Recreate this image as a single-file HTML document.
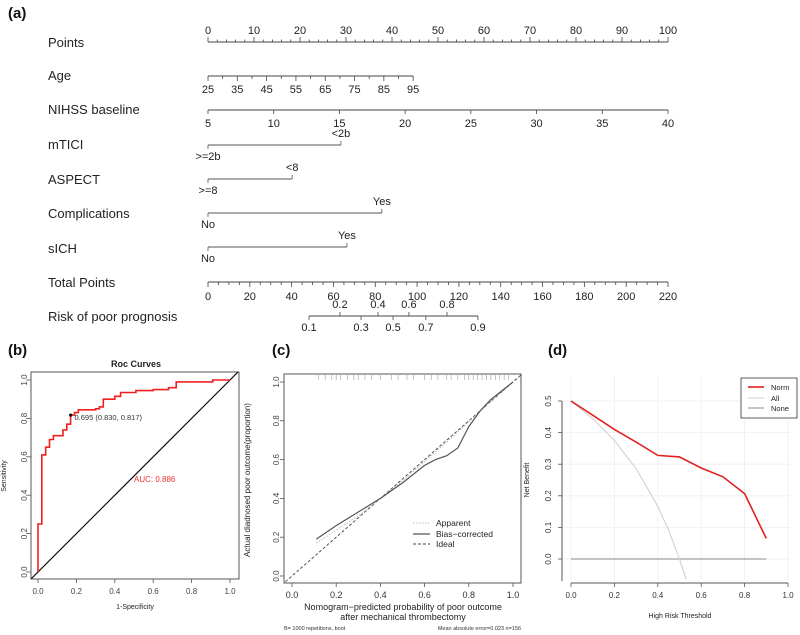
<!DOCTYPE html>
<html><head><meta charset="utf-8"><style>
html,body{margin:0;padding:0;background:#fff;}
svg{display:block;font-family:"Liberation Sans",Arial,sans-serif;}
</style></head><body>
<svg id="fig" width="800" height="635" viewBox="0 0 800 635" xmlns="http://www.w3.org/2000/svg"></svg>
<script>
// ---------- data ----------
const nomoRows = ["Points","Age","NIHSS baseline","mTICI","ASPECT","Complications","sICH","Total Points","Risk of poor prognosis"];
const ageTicks = [25,35,45,55,65,75,85,95];
const ageEndPoints = 44.6;
const nihssTicks = [5,10,15,20,25,30,35,40];
const mticiPoints = 28.9;
const aspectPoints = 18.3;
const complPoints = 37.8;
const sichPoints = 30.2;
const totalTicks = [0,20,40,60,80,100,120,140,160,180,200,220];
const riskLabels = [0.1,0.2,0.3,0.4,0.5,0.6,0.7,0.8,0.9];
const riskTotals = [48.3,63.1,73.2,81.3,88.5,96.1,104.2,114.3,129.1];

const rocFpr = [0,0,0.02,0.02,0.04,0.04,0.06,0.06,0.08,0.08,0.13,0.13,0.15,0.15,0.17,0.17,0.19,0.19,0.21,0.21,0.30,0.30,0.32,0.32,0.34,0.34,0.40,0.40,0.43,0.43,0.51,0.51,0.60,0.60,0.68,0.68,0.72,0.72,0.91,0.91,1.0];
const rocTpr = [0,0.25,0.25,0.61,0.61,0.65,0.65,0.69,0.69,0.71,0.71,0.74,0.74,0.77,0.77,0.817,0.817,0.83,0.83,0.845,0.845,0.85,0.85,0.86,0.86,0.90,0.90,0.915,0.915,0.935,0.935,0.945,0.945,0.95,0.95,0.96,0.96,0.99,0.99,1.0,1.0];
const axisTicks = [0,0.2,0.4,0.6,0.8,1.0];

const calX = [0.11,0.2,0.3,0.4,0.5,0.6,0.65,0.7,0.75,0.8,0.85,0.9,1.0];
const calBias = [0.19,0.26,0.33,0.40,0.48,0.57,0.60,0.62,0.66,0.77,0.85,0.91,1.0];
const calAppX = [0.11,0.3,0.5,0.7,0.9,1.0];
const calApp = [0.17,0.31,0.49,0.69,0.90,1.0];
const rugX = [0.12,0.15,0.18,0.2,0.22,0.25,0.28,0.3,0.33,0.36,0.4,0.45,0.48,0.52,0.55,0.6,0.63,0.66,0.7,0.72,0.75,0.78,0.8,0.82,0.84,0.86,0.88,0.9,0.92,0.94,0.96,0.98];

const dcaT = [0,0.1,0.2,0.3,0.4,0.5,0.6,0.7,0.8,0.9];
const dcaNorm = [0.5,0.455,0.41,0.37,0.328,0.323,0.288,0.26,0.207,0.065];
const dcaAllT = [0,0.1,0.2,0.3,0.4,0.45,0.5,0.53];
const dcaAll = [0.5,0.444,0.375,0.286,0.167,0.091,0,-0.064];
const dcaNoneT = [0,0.9];
const dcaNone = [0,0];
const dcaYTicks = [0,0.1,0.2,0.3,0.4,0.5];

// ---------- helpers ----------
const svg = document.getElementById('fig');
const NS = 'http://www.w3.org/2000/svg';
function mk(tag, attrs, name, parent){
  const el = document.createElementNS(NS, tag);
  for (const k in attrs) el.setAttribute(k, attrs[k]);
  
  
  (parent||svg).appendChild(el);
  return el;
}
function txt(x,y,s,size,name,extra){
  const a = Object.assign({x:x,y:y,'font-size':size,fill:'#222'}, extra||{});
  const t = mk('text', a, name);
  t.textContent = s;
  return t;
}
function line(x1,y1,x2,y2,name,stroke,w,extra){
  return mk('line', Object.assign({x1:x1,y1:y1,x2:x2,y2:y2,stroke:stroke||'#333','stroke-width':w||1}, extra||{}), name);
}
function poly(xs,ys,fx,fy,name,stroke,w,extra){
  const pts = xs.map((v,i)=>fx(v).toFixed(1)+','+fy(ys[i]).toFixed(1)).join(' ');
  return mk('polyline', Object.assign({points:pts,fill:'none',stroke:stroke,'stroke-width':w}, extra||{}), name);
}

// ---------- (a) nomogram ----------
txt(8,18,'(a)',15,'panel-a-label',{'font-weight':'bold',fill:'#111'});
const P = p => 208 + p*4.6;
const rowY = [42,75,109,144,179,213,248,282,316];
nomoRows.forEach((r,i)=>txt(48,rowY[i]+5,r,13,'row-label-'+r.toLowerCase().replace(/[^a-z]+/g,'-')));
line(P(0),42,P(100),42,'points-axis-line','#444',1);
for(let p=0;p<=100;p+=2){ line(P(p),42,P(p),p%10===0?37:39.5,'points-tick','#444',0.8); }
for(let p=0;p<=100;p+=10){ txt(P(p),34,String(p),11,'points-tick-label',{'text-anchor':'middle'}); }
const ageP = a => P((a-25)/70*ageEndPoints);
line(ageP(25),76,ageP(95),76,'age-axis-line','#444',1);
for(let a=25;a<=95;a+=5){ line(ageP(a),76,ageP(a),a%10===5?81:79,'age-tick','#444',0.8); }
ageTicks.forEach(a=>txt(ageP(a),93,String(a),11,'age-tick-label',{'text-anchor':'middle'}));
const nP = n => P((n-5)/35*100);
line(nP(5),110,nP(40),110,'nihss-axis-line','#444',1);
nihssTicks.forEach(n=>{ line(nP(n),110,nP(n),114,'nihss-tick','#444',0.8); txt(nP(n),127,String(n),11,'nihss-tick-label',{'text-anchor':'middle'}); });
function catRow(yy,pts,hi,lo,key){
  line(P(0),yy,P(pts),yy,key+'-line','#555',1);
  line(P(0),yy,P(0),yy+4,key+'-tick-low','#555',0.8);
  line(P(pts),yy,P(pts),yy-4,key+'-tick-high','#555',0.8);
  txt(P(pts),yy-8,hi,11,key+'-high-label',{'text-anchor':'middle'});
  txt(P(0),yy+15,lo,11,key+'-low-label',{'text-anchor':'middle'});
}
catRow(145,mticiPoints,'<2b','>=2b','mtici');
catRow(179,aspectPoints,'<8','>=8','aspect');
catRow(213,complPoints,'Yes','No','complications');
catRow(247,sichPoints,'Yes','No','sich');
const tP = t => P(t/220*100);
line(tP(0),282,tP(220),282,'total-axis-line','#444',1);
for(let t=0;t<=220;t+=5){ line(tP(t),282,tP(t),t%20===0?287:285,'total-tick','#444',0.8); }
totalTicks.forEach(t=>txt(tP(t),300,String(t),11,'total-tick-label',{'text-anchor':'middle'}));
line(tP(riskTotals[0]),316,tP(riskTotals[riskTotals.length-1]),316,'risk-axis-line','#444',1);
riskLabels.forEach((r,i)=>{
  const x = tP(riskTotals[i]); const up = i%2===1;
  line(x,316,x,up?312:320,'risk-tick','#444',0.8);
  txt(x,up?308:331,r.toFixed(1),11,'risk-tick-label',{'text-anchor':'middle'});
});

// ---------- (b) ROC ----------
txt(8,355,'(b)',15,'panel-b-label',{'font-weight':'bold',fill:'#111'});
const bx = v => 38 + v*192, by = v => 572 - v*192;
mk('rect',{x:31,y:372,width:208,height:207,fill:'none',stroke:'#555','stroke-width':1},'roc-plot-frame');
txt(136,367,'Roc Curves',9,'roc-title',{'text-anchor':'middle','font-weight':'bold'});
axisTicks.forEach(v=>{
  line(bx(v),579,bx(v),583,'roc-x-tick','#555',0.8);
  txt(bx(v),594,v.toFixed(1),8,'roc-x-tick-label',{'text-anchor':'middle',fill:'#444'});
  line(27,by(v),31,by(v),'roc-y-tick','#555',0.8);
  txt(24,by(v),v.toFixed(1),8,'roc-y-tick-label',{'text-anchor':'middle',fill:'#444',transform:`rotate(-90 24 ${by(v)})`,dy:'3'});
});
txt(135,609,'1-Specificity',7,'roc-x-title',{'text-anchor':'middle'});
txt(6,476,'Sensitivity',7,'roc-y-title',{'text-anchor':'middle',transform:'rotate(-90 6 476)'});
const cbp = mk('clipPath',{id:'cb'},'roc-clip');
mk('rect',{x:31,y:372,width:208,height:207},'roc-clip-rect',cbp);
line(bx(-0.04),by(-0.04),bx(1.05),by(1.05),'roc-diagonal','#111',1.2,{'clip-path':'url(#cb)'});
poly(rocFpr,rocTpr,bx,by,'roc-curve','#f02020',1.6);
mk('circle',{cx:bx(0.17),cy:by(0.817),r:1.6,fill:'#111'},'roc-cutoff-point');
txt(bx(0.19),by(0.817)+5,'0.695 (0.830, 0.817)',7.5,'roc-cutoff-label',{fill:'#333'});
txt(bx(0.5),by(0.47),'AUC: 0.886',8,'roc-auc-label',{fill:'#f03030'});

// ---------- (c) calibration ----------
txt(272,355,'(c)',15,'panel-c-label',{'font-weight':'bold',fill:'#111'});
const cx = v => 292 + v*221, cy = v => 576 - v*194;
mk('rect',{x:284,y:374,width:237,height:209,fill:'none',stroke:'#555','stroke-width':1},'calibration-plot-frame');
axisTicks.forEach(v=>{
  line(cx(v),583,cx(v),587,'cal-x-tick','#555',0.8);
  txt(cx(v),598,v.toFixed(1),9,'cal-x-tick-label',{'text-anchor':'middle',fill:'#333'});
  line(280,cy(v),284,cy(v),'cal-y-tick','#555',0.8);
  txt(276,cy(v),v.toFixed(1),8,'cal-y-tick-label',{'text-anchor':'middle',fill:'#444',transform:`rotate(-90 276 ${cy(v)})`,dy:'3'});
});
txt(403,610,'Nomogram\u2212predicted probability of poor outcome',9,'cal-x-title-line1',{'text-anchor':'middle'});
txt(403,620,'after mechanical thrombectomy',9,'cal-x-title-line2',{'text-anchor':'middle'});
txt(284,630,'B= 1000 repetitions, boot',5.5,'cal-footnote-left',{fill:'#333'});
txt(521,630,'Mean absolute error=0.023 n=156',5.5,'cal-footnote-right',{'text-anchor':'end',fill:'#333'});
txt(250,480,'Actual diadnosed poor outcome(proportion)',8,'cal-y-title',{'text-anchor':'middle',transform:'rotate(-90 250 480)'});
rugX.forEach(v=>line(cx(v),375,cx(v),380,'cal-rug-mark','#aaa',0.7));
line(cx(-0.03),cy(-0.03),cx(1.04),cy(1.04),'cal-ideal-line','#444',0.9,{'stroke-dasharray':'3,2'});
poly(calAppX,calApp,cx,cy,'cal-apparent-line','#bbb',1,{'stroke-dasharray':'1.5,1.5'});
poly(calX,calBias,cx,cy,'cal-bias-corrected-line','#555',1.2);
line(413,523,430,523,'cal-legend-apparent-swatch','#bbb',1,{'stroke-dasharray':'1.5,1.5'});
txt(436,526,'Apparent',8.5,'cal-legend-apparent-label');
line(413,534,430,534,'cal-legend-bias-swatch','#555',1.2);
txt(436,537,'Bias\u2212corrected',8.5,'cal-legend-bias-label');
line(413,544,430,544,'cal-legend-ideal-swatch','#444',0.9,{'stroke-dasharray':'3,2'});
txt(436,547,'Ideal',8.5,'cal-legend-ideal-label');

// ---------- (d) DCA ----------
txt(548,355,'(d)',15,'panel-d-label',{'font-weight':'bold',fill:'#111'});
const dx = v => 571 + v*217, dy = v => 559 - v*316;
[0,0.2,0.4,0.6,0.8,1.0].forEach(v=>line(dx(v),376,dx(v),580,'dca-grid-v','#eee',0.8));
dcaYTicks.forEach(v=>line(562,dy(v),790,dy(v),'dca-grid-h','#eee',0.8));
const cdp = mk('clipPath',{id:'cd'},'dca-clip');
mk('rect',{x:562,y:370,width:235,height:211},'dca-clip-rect',cdp);
line(562,dy(0.5),562,dy(-0.07),'dca-y-axis-line','#555',1);
line(dx(0),583,dx(1),583,'dca-x-axis-line','#555',1);
axisTicks.forEach(v=>{
  line(dx(v),583,dx(v),587,'dca-x-tick','#555',0.8);
  txt(dx(v),598,v.toFixed(1),8,'dca-x-tick-label',{'text-anchor':'middle',fill:'#333'});
});
dcaYTicks.forEach(v=>{
  line(558,dy(v),562,dy(v),'dca-y-tick','#555',0.8);
  txt(548,dy(v),v.toFixed(1),8,'dca-y-tick-label',{'text-anchor':'middle',fill:'#333',transform:`rotate(-90 548 ${dy(v)})`,dy:'3'});
});
txt(680,618,'High Risk Threshold',7,'dca-x-title',{'text-anchor':'middle'});
txt(529,480,'Net Benefit',7,'dca-y-title',{'text-anchor':'middle',transform:'rotate(-90 529 480)'});
poly(dcaNoneT,dcaNone,dx,dy,'dca-none-line','#888',1);
poly(dcaAllT,dcaAll,dx,dy,'dca-all-line','#ccc',1,{'clip-path':'url(#cd)'});
poly(dcaT,dcaNorm,dx,dy,'dca-norm-line','#e02020',1.6);
mk('rect',{x:741,y:378,width:56,height:40,fill:'#fff',stroke:'#333','stroke-width':0.8},'dca-legend-box');
line(748,387,764,387,'dca-legend-norm-swatch','#e02020',1.6);
txt(771,390,'Norm',7.5,'dca-legend-norm-label');
line(748,398,764,398,'dca-legend-all-swatch','#ccc',1);
txt(771,401,'All',7.5,'dca-legend-all-label');
line(748,408,764,408,'dca-legend-none-swatch','#888',1);
txt(771,411,'None',7.5,'dca-legend-none-label');
</script>
</body></html>
